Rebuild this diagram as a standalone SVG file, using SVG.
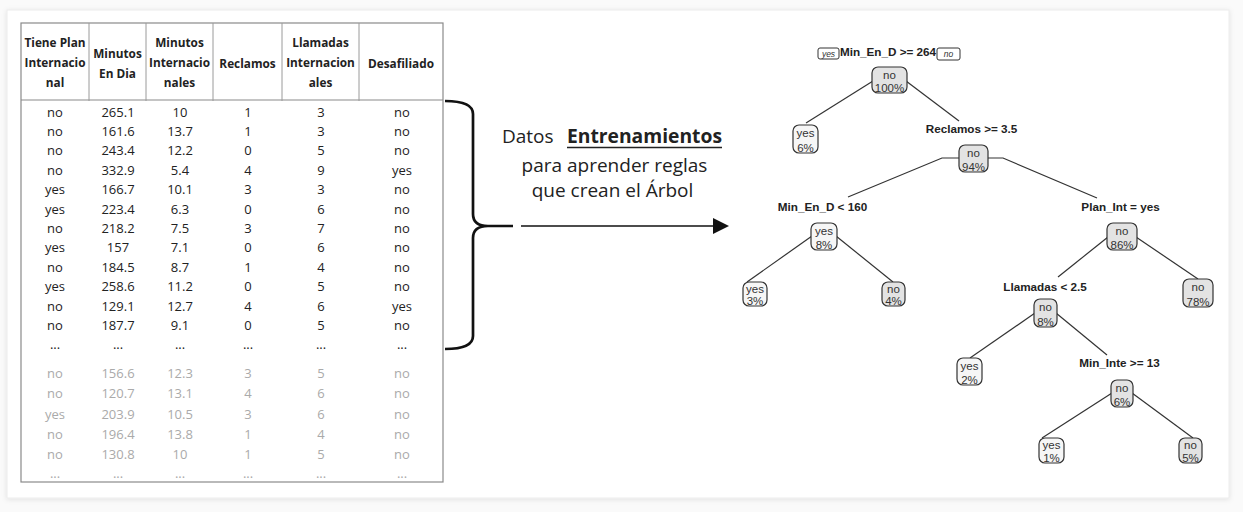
<svg xmlns="http://www.w3.org/2000/svg" width="1243" height="512" viewBox="0 0 1243 512">
<style>
.hd{font-family:"Open Sans","Liberation Sans",sans-serif;font-weight:bold;font-size:11.8px;fill:#222;text-anchor:middle}
.td{font-family:"Open Sans","Liberation Sans",sans-serif;font-size:13px;fill:#222;text-anchor:middle}
.tg{font-family:"Open Sans","Liberation Sans",sans-serif;font-size:13px;fill:#aaaaaa;text-anchor:middle}
.mid{font-family:"Open Sans","Liberation Sans",sans-serif;font-size:19px;fill:#222}
.split{font-family:"Liberation Sans",Arial,sans-serif;font-weight:bold;font-size:11.7px;fill:#222;text-anchor:middle}
.nt{font-family:"Liberation Sans",Arial,sans-serif;font-size:11.5px;fill:#333;text-anchor:middle}
.sm{font-family:"Liberation Sans",Arial,sans-serif;font-style:italic;font-size:8.5px;fill:#333;text-anchor:middle}
.bno{fill:#e3e3e3;stroke:#333;stroke-width:1.2}
.byes{fill:#f6f6f6;stroke:#333;stroke-width:1.2}
.edge{stroke:#333;stroke-width:1.2;fill:none}
</style>
<defs>
<filter id="sh" x="-5%" y="-5%" width="110%" height="110%">
<feDropShadow dx="0" dy="1" stdDeviation="2.5" flood-color="#000" flood-opacity="0.10"/>
</filter>
</defs>
<rect x="0" y="0" width="1243" height="512" fill="#fafafa"/>
<rect x="7" y="10" width="1222" height="488" fill="#ffffff" stroke="#ececec" stroke-width="1" filter="url(#sh)"/>

<g id="table">
<rect x="21" y="23" width="422" height="459" fill="#fff" stroke="#8a8a8a" stroke-width="1.2"/>
<line x1="21" y1="100" x2="443" y2="100" stroke="#8a8a8a" stroke-width="1.2"/>
<g stroke="#9a9a9a" stroke-width="1">
<line x1="89" y1="23" x2="89" y2="101"/>
<line x1="146" y1="23" x2="146" y2="101"/>
<line x1="213" y1="23" x2="213" y2="101"/>
<line x1="282" y1="23" x2="282" y2="101"/>
<line x1="359" y1="23" x2="359" y2="101"/>
</g>
<text class="hd" x="55" y="47">Tiene Plan</text>
<text class="hd" x="55" y="67">Internacio</text>
<text class="hd" x="55" y="87">nal</text>
<text class="hd" x="117.5" y="57.5">Minutos</text>
<text class="hd" x="117.5" y="77.5">En Dia</text>
<text class="hd" x="179.5" y="47">Minutos</text>
<text class="hd" x="179.5" y="67">Internacio</text>
<text class="hd" x="179.5" y="87">nales</text>
<text class="hd" x="247.5" y="67.5">Reclamos</text>
<text class="hd" x="320.5" y="47">Llamadas</text>
<text class="hd" x="320.5" y="67">Internacion</text>
<text class="hd" x="320.5" y="87">ales</text>
<text class="hd" x="401" y="67.5">Desafiliado</text>

<g class="td">
<text x="55" y="116.5">no</text><text x="118" y="116.5">265.1</text><text x="180" y="116.5">10</text><text x="248" y="116.5">1</text><text x="321" y="116.5">3</text><text x="402" y="116.5">no</text>
<text x="55" y="135.9">no</text><text x="118" y="135.9">161.6</text><text x="180" y="135.9">13.7</text><text x="248" y="135.9">1</text><text x="321" y="135.9">3</text><text x="402" y="135.9">no</text>
<text x="55" y="155.3">no</text><text x="118" y="155.3">243.4</text><text x="180" y="155.3">12.2</text><text x="248" y="155.3">0</text><text x="321" y="155.3">5</text><text x="402" y="155.3">no</text>
<text x="55" y="174.7">no</text><text x="118" y="174.7">332.9</text><text x="180" y="174.7">5.4</text><text x="248" y="174.7">4</text><text x="321" y="174.7">9</text><text x="402" y="174.7">yes</text>
<text x="55" y="194.1">yes</text><text x="118" y="194.1">166.7</text><text x="180" y="194.1">10.1</text><text x="248" y="194.1">3</text><text x="321" y="194.1">3</text><text x="402" y="194.1">no</text>
<text x="55" y="213.5">yes</text><text x="118" y="213.5">223.4</text><text x="180" y="213.5">6.3</text><text x="248" y="213.5">0</text><text x="321" y="213.5">6</text><text x="402" y="213.5">no</text>
<text x="55" y="232.9">no</text><text x="118" y="232.9">218.2</text><text x="180" y="232.9">7.5</text><text x="248" y="232.9">3</text><text x="321" y="232.9">7</text><text x="402" y="232.9">no</text>
<text x="55" y="252.3">yes</text><text x="118" y="252.3">157</text><text x="180" y="252.3">7.1</text><text x="248" y="252.3">0</text><text x="321" y="252.3">6</text><text x="402" y="252.3">no</text>
<text x="55" y="271.7">no</text><text x="118" y="271.7">184.5</text><text x="180" y="271.7">8.7</text><text x="248" y="271.7">1</text><text x="321" y="271.7">4</text><text x="402" y="271.7">no</text>
<text x="55" y="291.1">yes</text><text x="118" y="291.1">258.6</text><text x="180" y="291.1">11.2</text><text x="248" y="291.1">0</text><text x="321" y="291.1">5</text><text x="402" y="291.1">no</text>
<text x="55" y="310.5">no</text><text x="118" y="310.5">129.1</text><text x="180" y="310.5">12.7</text><text x="248" y="310.5">4</text><text x="321" y="310.5">6</text><text x="402" y="310.5">yes</text>
<text x="55" y="329.9">no</text><text x="118" y="329.9">187.7</text><text x="180" y="329.9">9.1</text><text x="248" y="329.9">0</text><text x="321" y="329.9">5</text><text x="402" y="329.9">no</text>
<text x="55" y="349">...</text><text x="118" y="349">...</text><text x="180" y="349">...</text><text x="248" y="349">...</text><text x="321" y="349">...</text><text x="402" y="349">...</text>
</g>
<g class="tg">
<text x="55" y="378">no</text><text x="118" y="378">156.6</text><text x="180" y="378">12.3</text><text x="248" y="378">3</text><text x="321" y="378">5</text><text x="402" y="378">no</text>
<text x="55" y="398">no</text><text x="118" y="398">120.7</text><text x="180" y="398">13.1</text><text x="248" y="398">4</text><text x="321" y="398">6</text><text x="402" y="398">no</text>
<text x="55" y="418.5">yes</text><text x="118" y="418.5">203.9</text><text x="180" y="418.5">10.5</text><text x="248" y="418.5">3</text><text x="321" y="418.5">6</text><text x="402" y="418.5">no</text>
<text x="55" y="438.5">no</text><text x="118" y="438.5">196.4</text><text x="180" y="438.5">13.8</text><text x="248" y="438.5">1</text><text x="321" y="438.5">4</text><text x="402" y="438.5">no</text>
<text x="55" y="458.5">no</text><text x="118" y="458.5">130.8</text><text x="180" y="458.5">10</text><text x="248" y="458.5">1</text><text x="321" y="458.5">5</text><text x="402" y="458.5">no</text>
<text x="55" y="477.5">...</text><text x="118" y="477.5">...</text><text x="180" y="477.5">...</text><text x="248" y="477.5">...</text><text x="321" y="477.5">...</text><text x="402" y="477.5">...</text>
</g>
</g>

<g id="brace-arrow">
<path d="M445,101 Q473,101 473,114 L473,214 Q473,226 488,226 L513,226 M488,226 Q473,226 473,238 L473,336 Q473,349 445,349" fill="none" stroke="#111" stroke-width="2.7"/>
<line x1="521" y1="226" x2="715" y2="226" stroke="#111" stroke-width="1.6"/>
<polygon points="713,218 729,226 713,234" fill="#111"/>
</g>

<g id="caption">
<text class="mid" x="502" y="143">Datos</text>
<text class="mid" x="567" y="143" font-weight="bold" textLength="155" lengthAdjust="spacingAndGlyphs">Entrenamientos</text>
<line x1="567" y1="147.5" x2="722" y2="147.5" stroke="#222" stroke-width="1.5"/>
<text class="mid" x="614.5" y="171.5" text-anchor="middle">para aprender reglas</text>
<text class="mid" x="612.5" y="196.5" text-anchor="middle">que crean el Árbol</text>
</g>

<g id="connectors">
<line class="edge" x1="873" y1="81" x2="806" y2="123"/>
<line class="edge" x1="906" y1="81" x2="959" y2="121"/>
<polyline class="edge" points="959,158 942,158 848,197"/>
<polyline class="edge" points="988,158 1003,158 1097,198"/>
<line class="edge" x1="812" y1="236" x2="747" y2="282"/>
<line class="edge" x1="836" y1="236" x2="893" y2="282"/>
<line class="edge" x1="1108" y1="237" x2="1058" y2="277"/>
<line class="edge" x1="1136" y1="237" x2="1198" y2="279"/>
<line class="edge" x1="1035" y1="313" x2="970" y2="358"/>
<line class="edge" x1="1056" y1="313" x2="1107" y2="355"/>
<line class="edge" x1="1112" y1="393" x2="1042" y2="438"/>
<line class="edge" x1="1132" y1="393" x2="1193" y2="438"/>
</g>

<g id="split-root">
<rect x="818" y="48" width="21" height="11" rx="2" fill="#fff" stroke="#333" stroke-width="1"/>
<text class="sm" x="828.5" y="57">yes</text>
<text class="split" x="888" y="56">Min_En_D &gt;= 264</text>
<rect x="937" y="48" width="23" height="12" rx="2" fill="#fff" stroke="#333" stroke-width="1"/>
<text class="sm" x="948.5" y="57">no</text>
</g>
<g id="split-reclamos"><text class="split" x="971.5" y="133">Reclamos &gt;= 3.5</text></g>
<g id="split-minend"><text class="split" x="822.5" y="211">Min_En_D &lt; 160</text></g>
<g id="split-planint"><text class="split" x="1120.5" y="211">Plan_Int = yes</text></g>
<g id="split-llamadas"><text class="split" x="1045" y="291">Llamadas &lt; 2.5</text></g>
<g id="split-mininte"><text class="split" x="1119.5" y="367">Min_Inte &gt;= 13</text></g>

<g id="node-root"><rect class="bno" x="872" y="67" width="35" height="26" rx="6"/><text class="nt" x="889.5" y="78.5">no</text><text class="nt" x="889.5" y="92">100%</text></g>
<g id="node-94"><rect class="bno" x="959" y="145" width="29" height="27" rx="6"/><text class="nt" x="973.5" y="156.5">no</text><text class="nt" x="973.5" y="171">94%</text></g>
<g id="leaf-6"><rect class="byes" x="793" y="125" width="25" height="28" rx="6"/><text class="nt" x="805.5" y="136.5">yes</text><text class="nt" x="805.5" y="152">6%</text></g>
<g id="node-8a"><rect class="byes" x="811" y="223" width="26" height="27" rx="6"/><text class="nt" x="824" y="234.5">yes</text><text class="nt" x="824" y="249">8%</text></g>
<g id="leaf-3"><rect class="byes" x="743" y="282" width="24" height="24" rx="6"/><text class="nt" x="755" y="293">yes</text><text class="nt" x="755" y="305">3%</text></g>
<g id="leaf-4"><rect class="bno" x="882" y="282" width="23" height="24" rx="6"/><text class="nt" x="893.5" y="293">no</text><text class="nt" x="893.5" y="305">4%</text></g>
<g id="node-86"><rect class="bno" x="1107" y="223" width="30" height="27" rx="6"/><text class="nt" x="1122" y="234.5">no</text><text class="nt" x="1122" y="249">86%</text></g>
<g id="leaf-78"><rect class="bno" x="1183" y="279" width="30" height="28" rx="6"/><text class="nt" x="1198" y="290.5">no</text><text class="nt" x="1198" y="306">78%</text></g>
<g id="node-8b"><rect class="bno" x="1034" y="299" width="23" height="28" rx="6"/><text class="nt" x="1045.5" y="310.5">no</text><text class="nt" x="1045.5" y="326">8%</text></g>
<g id="leaf-2"><rect class="byes" x="957" y="358" width="25" height="27" rx="6"/><text class="nt" x="969.5" y="369.5">yes</text><text class="nt" x="969.5" y="384">2%</text></g>
<g id="node-6"><rect class="bno" x="1111" y="380" width="22" height="27" rx="6"/><text class="nt" x="1122" y="391.5">no</text><text class="nt" x="1122" y="406">6%</text></g>
<g id="leaf-1"><rect class="byes" x="1039" y="438" width="25" height="25" rx="6"/><text class="nt" x="1051.5" y="449">yes</text><text class="nt" x="1051.5" y="462">1%</text></g>
<g id="leaf-5"><rect class="bno" x="1179" y="438" width="23" height="25" rx="6"/><text class="nt" x="1190.5" y="449">no</text><text class="nt" x="1190.5" y="462">5%</text></g>
</svg>
